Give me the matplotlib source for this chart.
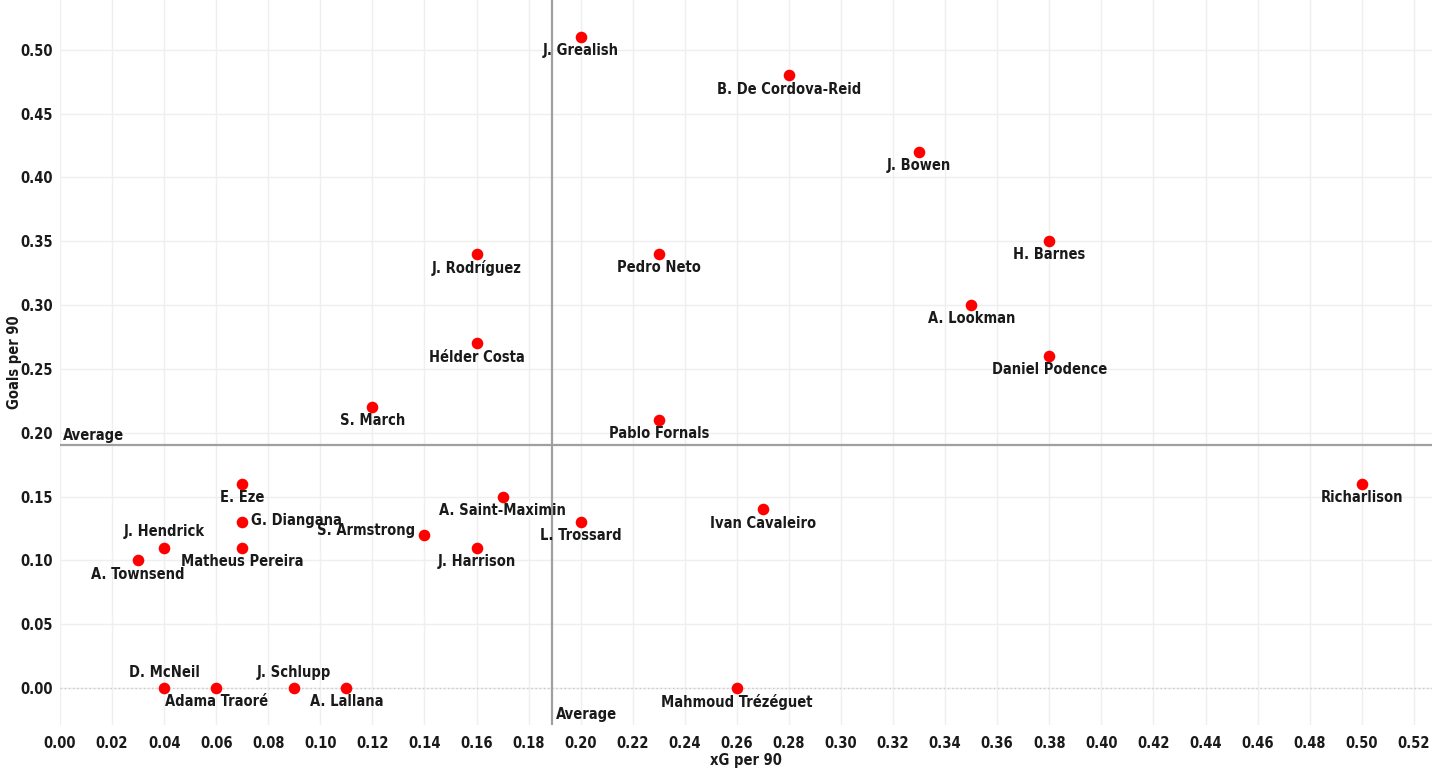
import matplotlib.pyplot as plt
from matplotlib.ticker import MultipleLocator

# data
players = ['J. Grealish', 'B. De Cordova-Reid', 'J. Bowen', 'H. Barnes', 'A. Lookman',
           'Daniel Podence', 'J. Rodríguez', 'Pedro Neto', 'Hélder Costa', 'S. March',
           'Pablo Fornals', 'Richarlison', 'E. Eze', 'A. Saint-Maximin', 'G. Diangana',
           'L. Trossard', 'Ivan Cavaleiro', 'J. Hendrick', 'S. Armstrong', 'Matheus Pereira',
           'J. Harrison', 'A. Townsend', 'D. McNeil', 'Adama Traoré', 'J. Schlupp',
           'A. Lallana', 'Mahmoud Trézéguet']
xg = [0.20, 0.28, 0.33, 0.38, 0.35,
      0.38, 0.16, 0.23, 0.16, 0.12,
      0.23, 0.50, 0.07, 0.17, 0.07,
      0.20, 0.27, 0.04, 0.14, 0.07,
      0.16, 0.03, 0.04, 0.06, 0.09,
      0.11, 0.26]
goals = [0.51, 0.48, 0.42, 0.35, 0.30,
         0.26, 0.34, 0.34, 0.27, 0.22,
         0.21, 0.16, 0.16, 0.15, 0.13,
         0.13, 0.14, 0.11, 0.12, 0.11,
         0.11, 0.10, 0.00, 0.00, 0.00,
         0.00, 0.00]
# where the name sits relative to the dot
label_pos = ['below'] * len(players)
label_pos[players.index('G. Diangana')] = 'right'
label_pos[players.index('S. Armstrong')] = 'left'
label_pos[players.index('J. Hendrick')] = 'above'
label_pos[players.index('D. McNeil')] = 'above'
label_pos[players.index('J. Schlupp')] = 'above'

avg_x = 0.189
avg_y = 0.19

font = dict(family='DejaVu Sans', fontstretch='condensed', fontweight='bold', color='#1a1a1a')

fig = plt.figure(figsize=(14.32, 7.76), dpi=100)
ax = fig.add_axes([60 / 1432, 51 / 776, 1372 / 1432, 725 / 776])

ax.scatter(xg, goals, s=70, color='#ff0000', zorder=4, linewidths=0)

for name, x, y, pos in zip(players, xg, goals, label_pos):
    if pos == 'below':
        ax.annotate(name, (x, y), xytext=(0, -4.5), textcoords='offset points',
                    ha='center', va='top', fontsize=10.5, **font)
    elif pos == 'above':
        ax.annotate(name, (x, y), xytext=(0, 6), textcoords='offset points',
                    ha='center', va='bottom', fontsize=10.5, **font)
    elif pos == 'right':
        ax.annotate(name, (x, y), xytext=(6, 1), textcoords='offset points',
                    ha='left', va='center', fontsize=10.5, **font)
    else:
        ax.annotate(name, (x, y), xytext=(-7, 3), textcoords='offset points',
                    ha='right', va='center', fontsize=10.5, **font)

ax.axhline(avg_y, color='#a0a0a0', lw=1.6, zorder=2)
ax.axvline(avg_x, color='#a0a0a0', lw=1.6, zorder=2)
ax.axhline(0, color='#c8c8c8', lw=1, ls=(0, (1, 2)), zorder=1)
ax.text(0.001, avg_y + 0.002, 'Average', ha='left', va='bottom', fontsize=10.5, **font)
ax.text(avg_x + 0.0015, -0.027, 'Average', ha='left', va='bottom', fontsize=10.5, **font)

ax.set_xlim(0, 0.527)
ax.set_ylim(-0.029, 0.539)
ax.xaxis.set_major_locator(MultipleLocator(0.02))
ax.yaxis.set_major_locator(MultipleLocator(0.05))
ax.xaxis.set_major_formatter(lambda v, p: f'{v:.2f}')
ax.yaxis.set_major_formatter(lambda v, p: f'{v:.2f}')
ax.grid(True, color='#efefef', lw=1)
ax.set_axisbelow(True)
for s in ax.spines.values():
    s.set_visible(False)
ax.tick_params(axis='x', length=0, pad=8)
ax.tick_params(axis='y', length=0, pad=5)
for lab in ax.get_xticklabels() + ax.get_yticklabels():
    lab.set_fontsize(10.5)
    lab.set_fontfamily('DejaVu Sans')
    lab.set_fontstretch('condensed')
    lab.set_fontweight('bold')
    lab.set_color('#1a1a1a')

ax.set_xlabel('xG per 90', fontsize=10.5, **font)
ax.set_ylabel('Goals per 90', fontsize=10.5, **font)
ax.xaxis.set_label_coords(0.5, -28 / 725)
ax.yaxis.set_label_coords(-38 / 1372, 0.5)

fig.savefig('out.png', dpi=100)
